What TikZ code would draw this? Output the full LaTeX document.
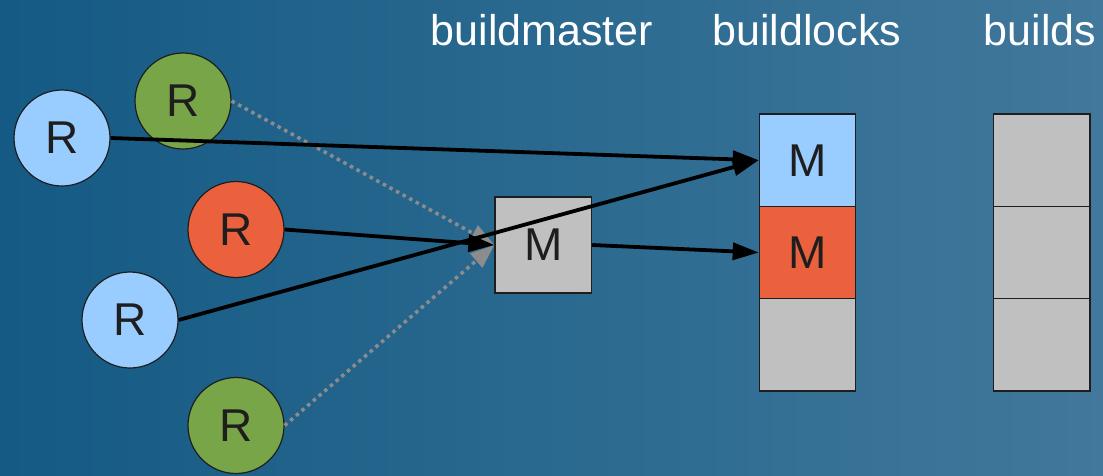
\documentclass[tikz,border=0pt]{standalone}
\usepackage{fontspec}
\setmainfont{Liberation Sans}
\usetikzlibrary{arrows.meta}
\definecolor{bgL}{HTML}{145A84}
\definecolor{bgR}{HTML}{41789B}
\definecolor{lblue}{HTML}{99CCFF}
\definecolor{lred}{HTML}{EB613E}
\definecolor{lgreen}{HTML}{78A547}
\definecolor{lgray}{HTML}{C0C0C0}
\definecolor{ink}{HTML}{1E1E1E}
\definecolor{dotgray}{HTML}{8C8C8C}
\begin{document}
\begin{tikzpicture}[x=1pt,y=-1pt,
  rnode/.style={circle,draw=ink,line width=1.2pt,minimum size=96pt,inner sep=0pt,text=ink,font=\fontsize{46}{46}\selectfont},
  cell/.style={rectangle,draw=ink,line width=1.2pt,minimum width=96.4pt,minimum height=92.3pt,inner sep=0pt,text=ink,font=\fontsize{46}{46}\selectfont,fill=lgray},
  title/.style={anchor=base,text=white,font=\fontsize{43}{43}\selectfont,inner sep=0pt},
  solidarrow/.style={line width=3.8pt,black,-{Triangle[length=26pt,width=17pt]}},
  dotarrow/.style={line width=3.5pt,dotgray,dash pattern=on 3.5pt off 4pt,-{Triangle[length=24pt,width=18pt]}}
]
\shade[left color=bgL,right color=bgR] (0,0) rectangle (1103,475);
\useasboundingbox (0,0) rectangle (1103,475);

\node[title] (t1) at (542,45) {buildmaster};
\node[title] (t2) at (807,45) {buildlocks};
\node[title] (t3) at (1040,45) {builds};

\node[rnode,fill=lblue] (b1) at (62,138) {R};
\node[rnode,fill=lgreen] (g1) at (183,101) {R};
\node[rnode,fill=lred] (r1) at (236,229.5) {R};
\node[rnode,fill=lblue] (b2) at (130,320) {R};
\node[rnode,fill=lgreen] (g2) at (236,425.5) {R};

\node[cell,minimum width=96.6pt,minimum height=96pt] (m) at (543.3,245) {M};

\node[cell,fill=lblue] (c1) at (807.5,160.2) {M};
\node[cell,fill=lred] (c2) at (807.5,252.5) {M};
\node[cell] (c3) at (807.5,344.8) {};
\node[cell] (d1) at (1041.7,160.2) {};
\node[cell] (d2) at (1041.7,252.5) {};
\node[cell] (d3) at (1041.7,344.8) {};

\draw[dotarrow] (g1.east) -- (m.west);
\draw[dotarrow] (g2.east) -- (m.west);
\draw[solidarrow] (b1.east) -- (c1.west);
\draw[solidarrow] (r1.east) -- (m.west);
\draw[solidarrow] (b2.east) -- (c1.west);
\draw[solidarrow] (m.east) -- (c2.west);
\end{tikzpicture}
\end{document}
